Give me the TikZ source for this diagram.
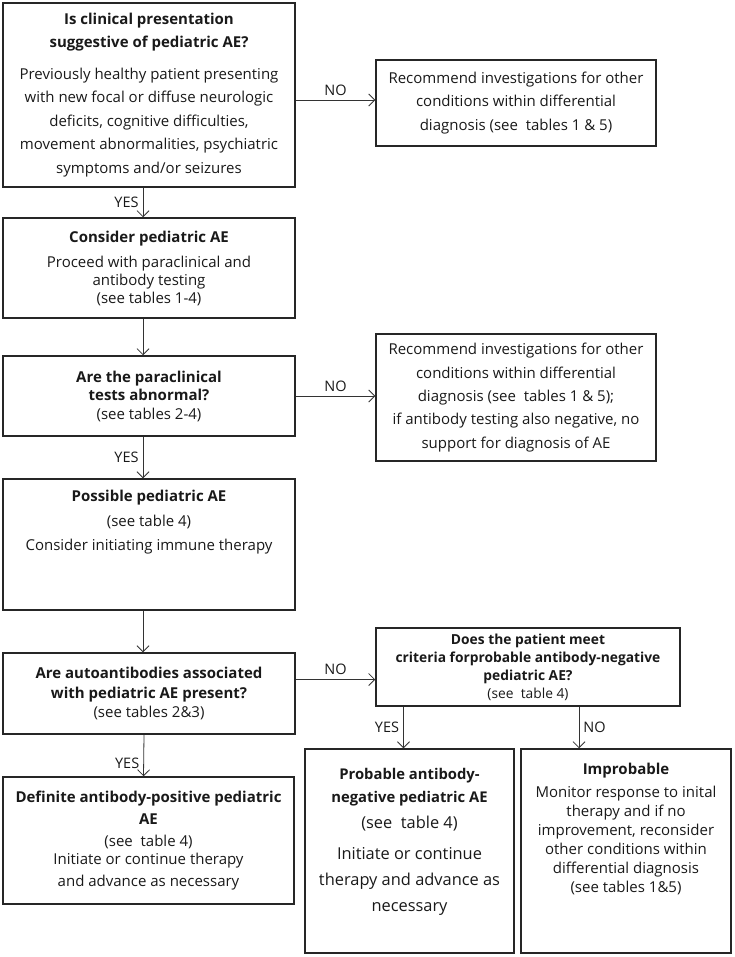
\documentclass[tikz,border=0pt]{standalone}
\usepackage{fontspec}
\setmainfont{Open Sans}
\usetikzlibrary{arrows.meta,positioning}

\begin{document}
\begin{tikzpicture}[x=1pt, y=1pt,
      box/.style={draw=black!85, line width=1.5pt, align=center, inner sep=2pt, text=black!90},
      txt/.style={align=center, inner sep=0pt, text=black!90},
      arr/.style={draw=black!80, line width=0.8pt, -{Straight Barb[length=6pt, width=12pt]}},
      lbl/.style={font=\fontsize{14.5}{16}\selectfont, inner sep=4pt, text=black!90}]
    \useasboundingbox (0,0) rectangle (735,-957);
    % left column
    \node[box, font=\fontsize{15}{23.5}\selectfont, minimum width=292pt, minimum height=184pt] (clin) at (149,-95)
      {\textbf{Is clinical presentation}\\ \textbf{suggestive of pediatric AE?}\\[8pt]
       Previously healthy patient presenting\\ with new focal or diffuse neurologic\\
       deficits, cognitive difficulties,\\ movement abnormalities, psychiatric\\ symptoms and/or seizures};
    \node[box, font=\fontsize{15}{18}\selectfont, minimum width=292pt, minimum height=100pt] (cons) at (149,-268)
      {\textbf{Consider pediatric AE}\\[7pt] Proceed with paraclinical and\\ antibody testing\\ (see tables 1-4)};
    \node[box, font=\fontsize{15}{18.5}\selectfont, minimum width=292pt, minimum height=80pt] (para) at (149,-396)
      {\textbf{Are the paraclinical}\\ \textbf{tests abnormal?}\\ (see tables 2-4)};
    \node[box, minimum width=292pt, minimum height=131pt] (poss) at (149,-544.5) {};
    \node[txt, font=\fontsize{15}{24.5}\selectfont, below=12pt of poss.north] (possT)
      {\textbf{Possible pediatric AE}\\ (see table 4)\\ Consider initiating immune therapy};
    \node[box, font=\fontsize{15}{19.5}\selectfont, minimum width=292pt, minimum height=81pt] (auto) at (149,-693.5)
      {\textbf{Are autoantibodies associated}\\ \textbf{with pediatric AE present?}\\ (see tables 2\&3)};
    \node[box, font=\fontsize{15}{22}\selectfont, minimum width=291pt, minimum height=127pt] (defin) at (148.5,-840.5)
      {\textbf{Definite antibody-positive pediatric}\\ \textbf{AE}\\ (see~~table 4)\\[-4pt]
       Initiate or continue therapy\\ and advance as necessary};
    % right column
    \node[box, font=\fontsize{15}{23.5}\selectfont, minimum width=280pt, minimum height=86pt] (rec1) at (516,-103)
      {Recommend investigations for other\\ conditions within differential\\ diagnosis (see~~tables 1 \& 5)};
    \node[box, font=\fontsize{15}{23.3}\selectfont, minimum width=280pt, minimum height=127pt] (rec2) at (516,-397.5)
      {Recommend investigations for other\\ conditions within differential\\ diagnosis (see~~tables 1 \& 5);\\
       if antibody testing also negative, no\\ support for diagnosis of AE};
    \node[box, font=\fontsize{13.8}{18}\selectfont, minimum width=304pt, minimum height=78pt] (crit) at (528,-667)
      {\textbf{Does the patient meet}\\ \textbf{criteria forprobable antibody-negative}\\ \textbf{pediatric AE?}\\ (see~~table 4)};
    \node[box, minimum width=209pt, minimum height=204pt] (prob) at (409.5,-851) {};
    \node[txt, font=\fontsize{16.4}{26}\selectfont, below=20pt of prob.north] (probT)
      {{\fontsize{14.8}{22}\selectfont\textbf{Probable antibody-}}\\[-3pt]
       {\fontsize{14.8}{22}\selectfont\textbf{negative pediatric AE}}\\ (see~~table 4)\\[5pt]
       Initiate or continue\\ therapy and advance as\\ necessary};
    \node[box, minimum width=210pt, minimum height=204pt] (impr) at (626,-851) {};
    \node[txt, font=\fontsize{15}{19}\selectfont, below=15pt of impr.north] (imprT)
      {\textbf{Improbable}\\[4pt] Monitor response to inital\\ therapy and if no\\ improvement, reconsider\\
       other conditions within\\ differential diagnosis\\ (see tables 1\&5)};
    % connectors
    \draw[arr] ([xshift=-6pt]clin.south) -- node[lbl, left] {YES} ([xshift=-6pt]cons.north);
    \draw[arr] ([xshift=-6pt]cons.south) -- ([xshift=-6pt]para.north);
    \draw[arr] ([xshift=-6pt]para.south) -- node[lbl, left] {YES} ([xshift=-6pt]poss.north);
    \draw[arr] ([xshift=-6pt]poss.south) -- ([xshift=-6pt]auto.north);
    \draw[arr] ([xshift=-5pt]auto.south) -- node[lbl, left, pos=0.7] {YES} ([xshift=-5pt]defin.north);
    \draw[arr] ([yshift=-5pt]clin.east) -- node[lbl, above] {NO} ([yshift=-5pt]clin.east -| rec1.west);
    \draw[arr] (para.east) -- node[lbl, above] {NO} (para.east -| rec2.west);
    \draw[arr] ([yshift=14pt]auto.east) -- node[lbl, above] {NO} ([yshift=14pt]auto.east -| crit.west);
    \draw[arr] ([xshift=-6pt]prob.north |- crit.south) -- node[lbl, left] {YES} ([xshift=-6pt]prob.north);
    \draw[arr] ([xshift=-47pt]impr.north |- crit.south) -- node[lbl, right] {NO} ([xshift=-47pt]impr.north);
\end{tikzpicture}
\end{document}
